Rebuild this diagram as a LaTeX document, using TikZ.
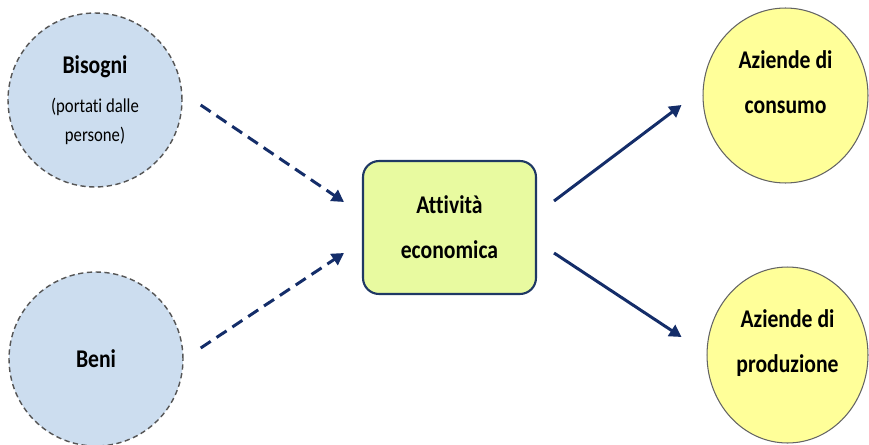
\documentclass[tikz,border=0pt]{standalone}
\usepackage{fontspec}
\setmainfont{Carlito}[FakeStretch=0.85, Ligatures=NoCommon]
\usepackage{xcolor}
\usepackage{tikz}
\usetikzlibrary{arrows.meta, shapes.geometric}
\usetikzlibrary{calc,positioning}

\definecolor{needblue}{RGB}{204,221,239}
\definecolor{needgray}{RGB}{85,85,85}
\definecolor{firmyellow}{RGB}{255,255,153}
\definecolor{firmgray}{RGB}{100,100,100}
\definecolor{actgreen}{RGB}{232,250,160}
\definecolor{actnavy}{RGB}{31,56,100}
\definecolor{flownavy}{RGB}{20,45,105}

\newcommand{\smalltext}{\mdseries\fontsize{11.2}{16.5}\selectfont}

\begin{document}
\begin{tikzpicture}[x=0.02cm, y=0.02cm]
			\tikzstyle{source}=[circle, minimum size=3.48cm, inner sep=0pt, fill=needblue, draw=needgray, line width=0.8pt, dash pattern=on 3pt off 2pt, align=center, font=\bfseries\fontsize{14.5}{20.5}\selectfont]
			\tikzstyle{firm}=[ellipse, inner sep=0pt, fill=firmyellow, draw=firmgray, line width=0.6pt, align=center, text depth=0.55cm, font=\bfseries\fontsize{14.5}{25.5}\selectfont]
			\tikzstyle{activity}=[rectangle, rounded corners=0.32cm, minimum width=3.46cm, minimum height=2.66cm, inner sep=0pt, fill=actgreen, draw=actnavy, line width=1.2pt, align=center, font=\bfseries\fontsize{14.5}{25.5}\selectfont]
			\tikzstyle{flow}=[-{Triangle[length=0.24cm, width=0.26cm]}, line width=1.7pt, color=flownavy]
			\tikzstyle{dashflow}=[flow, dash pattern=on 0.24cm off 0.14cm]
			
			\useasboundingbox (0,0) rectangle (869,444);
			\clip (0,0) rectangle (869,444);
			
			\node[source]   (bis)  at (95,344)    {Bisogni\\[2pt] \smalltext (portati dalle\\[-4pt] \smalltext persone)};
			\node[source]   (beni) at (96,85)     {Beni};
			
			\node[activity] (att)  at (449.5,216.5) {Attività\\economica};
			
			\node[firm, minimum width=3.3cm, minimum height=3.5cm]   (cons) at (785.5,348.5) {Aziende di\\consumo};
			\node[firm, minimum width=3.22cm, minimum height=3.52cm] (prod) at (787.5,89)    {Aziende di\\produzione};
			
			\coordinate (bis out)  at ($(bis.east)+(18,-5)$);
			\coordinate (beni out) at ($(beni.east)+(17,11)$);
			\coordinate (att in1)  at ($(att.west)+(-18,25.5)$);
			\coordinate (att in2)  at ($(att.west)+(-18,-25.5)$);
			\coordinate (att out1) at ($(att.east)+(17,26.5)$);
			\coordinate (att out2) at ($(att.east)+(17,-25.5)$);
			\coordinate (cons in)  at ($(cons.west)+(-21,-9.5)$);
			\coordinate (prod in)  at ($(prod.west)+(-25,18)$);
			
			\path[dashflow]
			(bis out)  edge (att in1)
			(beni out) edge (att in2)
			;
			\path[flow]
			(att out1) edge (cons in)
			(att out2) edge (prod in)
			;
\end{tikzpicture}
\end{document}
